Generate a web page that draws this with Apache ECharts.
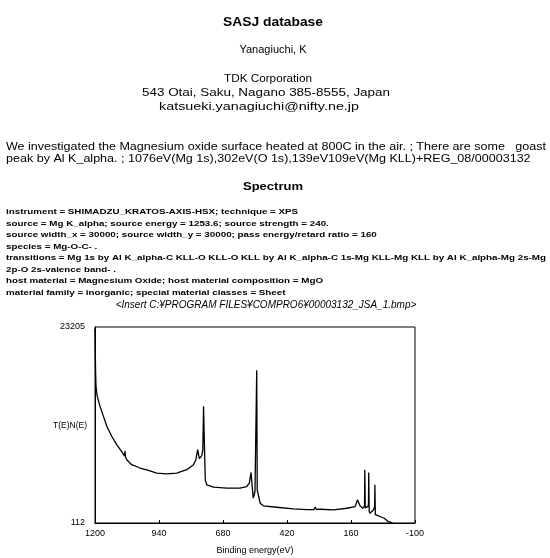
<!DOCTYPE html>
<html>
<head>
<meta charset="utf-8">
<script src="https://cdn.jsdelivr.net/npm/echarts@6/dist/echarts.min.js"></script>
<style>
html,body{margin:0;padding:0;background:#fff;}
#chart{width:550px;height:558px;}
</style>
</head>
<body>
<div id="chart"></div>
<script>
// Binding energy (eV) and intensity T(E)N(E)
const bindingEnergy = [1200,1199,1198,1196,1191,1180,1166,1152,1132,1112,1092,1080,1078,1076,1071,1051,1017,983,949,909,868,827,800,790,783,776,770,766,762,759,756,752,746,719,665,611,584,573,566,562,557,550,545,543,541,534,529,516,462,394,340,310,306,300,285,231,177,143,134,123,112,105,104,102,97,92,89,88,86,83,75,69,64,63,61,59,48,35,25,17,8,0,-8];
const intensity = [23000,21500,18500,16200,15070,13880,12700,11510,10330,9350,8550,8000,8600,7900,7570,6980,6590,6300,5995,5910,5995,6390,6980,7570,8760,7700,7650,8050,8760,13880,9940,5200,4610,4340,4220,4220,4410,4810,6070,4610,3040,3820,3820,18110,4020,3820,2440,2130,1970,1770,1680,1700,1970,1720,1730,1650,1850,2040,2840,2130,1850,2100,6390,1900,1850,2040,2300,6070,1500,1260,1060,1650,2000,4610,1100,1060,940,790,670,470,270,180,130];
const xTicks = [1200,940,680,420,160,-100];
const yTicks = [112,23205];

const headerLines = [
  "SASJ database",
  "Yanagiuchi, K",
  "TDK Corporation",
  "543 Otai, Saku, Nagano 385-8555, Japan",
  "katsueki.yanagiuchi@nifty.ne.jp"
];
const descLines = [
  "We investigated the Magnesium oxide surface heated at 800C in the air. ; There are some   goast",
  "peak by Al K_alpha. ; 1076eV(Mg 1s),302eV(O 1s),139eV109eV(Mg KLL)+REG_08/00003132"
];
const sectionTitle = "Spectrum";
const infoLines = [
  "instrument = SHIMADZU_KRATOS-AXIS-HSX; technique = XPS",
  "source = Mg K_alpha; source energy = 1253.6; source strength = 240.",
  "source width_x = 30000; source width_y = 30000; pass energy/retard ratio = 160",
  "species = Mg-O-C- .",
  "transitions = Mg 1s by Al K_alpha-C KLL-O KLL-O KLL by Al K_alpha-C 1s-Mg KLL-Mg KLL by Al K_alpha-Mg 2s-Mg",
  "2p-O 2s-valence band- .",
  "host material = Magnesium Oxide; host material composition = MgO",
  "material family = inorganic; special material classes = Sheet"
];
const insertLine = "<Insert C:¥PROGRAM FILES¥COMPRO6¥00003132_JSA_1.bmp>";
const yAxisTitle = "T(E)N(E)";

const FF = '"Liberation Sans", Arial, sans-serif';
const mctx = document.createElement('canvas').getContext('2d');
function measure(text, font){ mctx.font = font; return mctx.measureText(text).width; }
const g = [];
function txt(text, x, y, font, align, sx) {
  g.push({type:'text', x:x, y:y, scaleX:sx||1,
    style:{text:text, fill:'#000', font:font, textAlign:align||'left', textVerticalAlign:'middle'}});
}
function fit(text, font, w){ return w / measure(text, font); }

const fTitle = 'bold 13px '+FF;
txt(headerLines[0], 273, 22, fTitle, 'center', fit(headerLines[0], fTitle, 100));
const fHead = '11px '+FF;
txt(headerLines[1], 273, 50, fHead, 'center');
txt(headerLines[2], 268, 79, fHead, 'center', fit(headerLines[2], fHead, 88));
txt(headerLines[3], 266, 93, fHead, 'center', fit(headerLines[3], fHead, 248));
txt(headerLines[4], 259, 107, fHead, 'center', fit(headerLines[4], fHead, 200));
const fDesc = '10px '+FF;
const sDesc = fit(descLines[0], fDesc, 540);
txt(descLines[0], 6, 147, fDesc, 'left', sDesc);
txt(descLines[1], 6, 159, fDesc, 'left', sDesc);
const fSec = 'bold 11px '+FF;
txt(sectionTitle, 273, 187, fSec, 'center', fit(sectionTitle, fSec, 60));
const fInfo = 'bold 8px '+FF;
const sInfo = fit(infoLines[4], fInfo, 540);
infoLines.forEach(function(l, i){ txt(l, 6, 212 + i*11.5, fInfo, 'left', sInfo); });
txt(insertLine, 266, 305, 'italic 10px '+FF, 'center');
txt(yAxisTitle, 87, 426, '8.5px '+FF, 'right');

const chart = echarts.init(document.getElementById('chart'), null, {renderer:'canvas'});
chart.setOption({
  animation:false,
  backgroundColor:'#fff',
  graphic:g,
  grid:{left:95, right:135, top:327, bottom:35, show:true, borderColor:'#000', borderWidth:1},
  xAxis:{
    type:'value', inverse:true, min:-100, max:1200,
    name:'Binding energy(eV)', nameLocation:'middle', nameGap:23,
    nameTextStyle:{fontFamily:FF, fontSize:9, color:'#000'},
    axisLine:{onZero:false, lineStyle:{color:'#000', width:1}},
    axisTick:{inside:true, length:3, customValues:xTicks, lineStyle:{color:'#000'}},
    axisLabel:{customValues:xTicks, fontFamily:FF, fontSize:9, color:'#000', margin:6,
      formatter:function(v){return String(v);}},
    splitLine:{show:false}
  },
  yAxis:{
    type:'value', min:112, max:23205,
    axisLine:{show:true, onZero:false, lineStyle:{color:'#000', width:1}},
    axisTick:{show:false},
    axisLabel:{customValues:yTicks, fontFamily:FF, fontSize:9, color:'#000', margin:10,
      formatter:function(v){return String(v);}},
    splitLine:{show:false}
  },
  series:[{
    type:'line', showSymbol:false, symbol:'none',
    data:bindingEnergy.map(function(b,i){return [b, intensity[i]];}),
    lineStyle:{color:'#000', width:1.3},
    clip:true
  }]
});
</script>
</body>
</html>
